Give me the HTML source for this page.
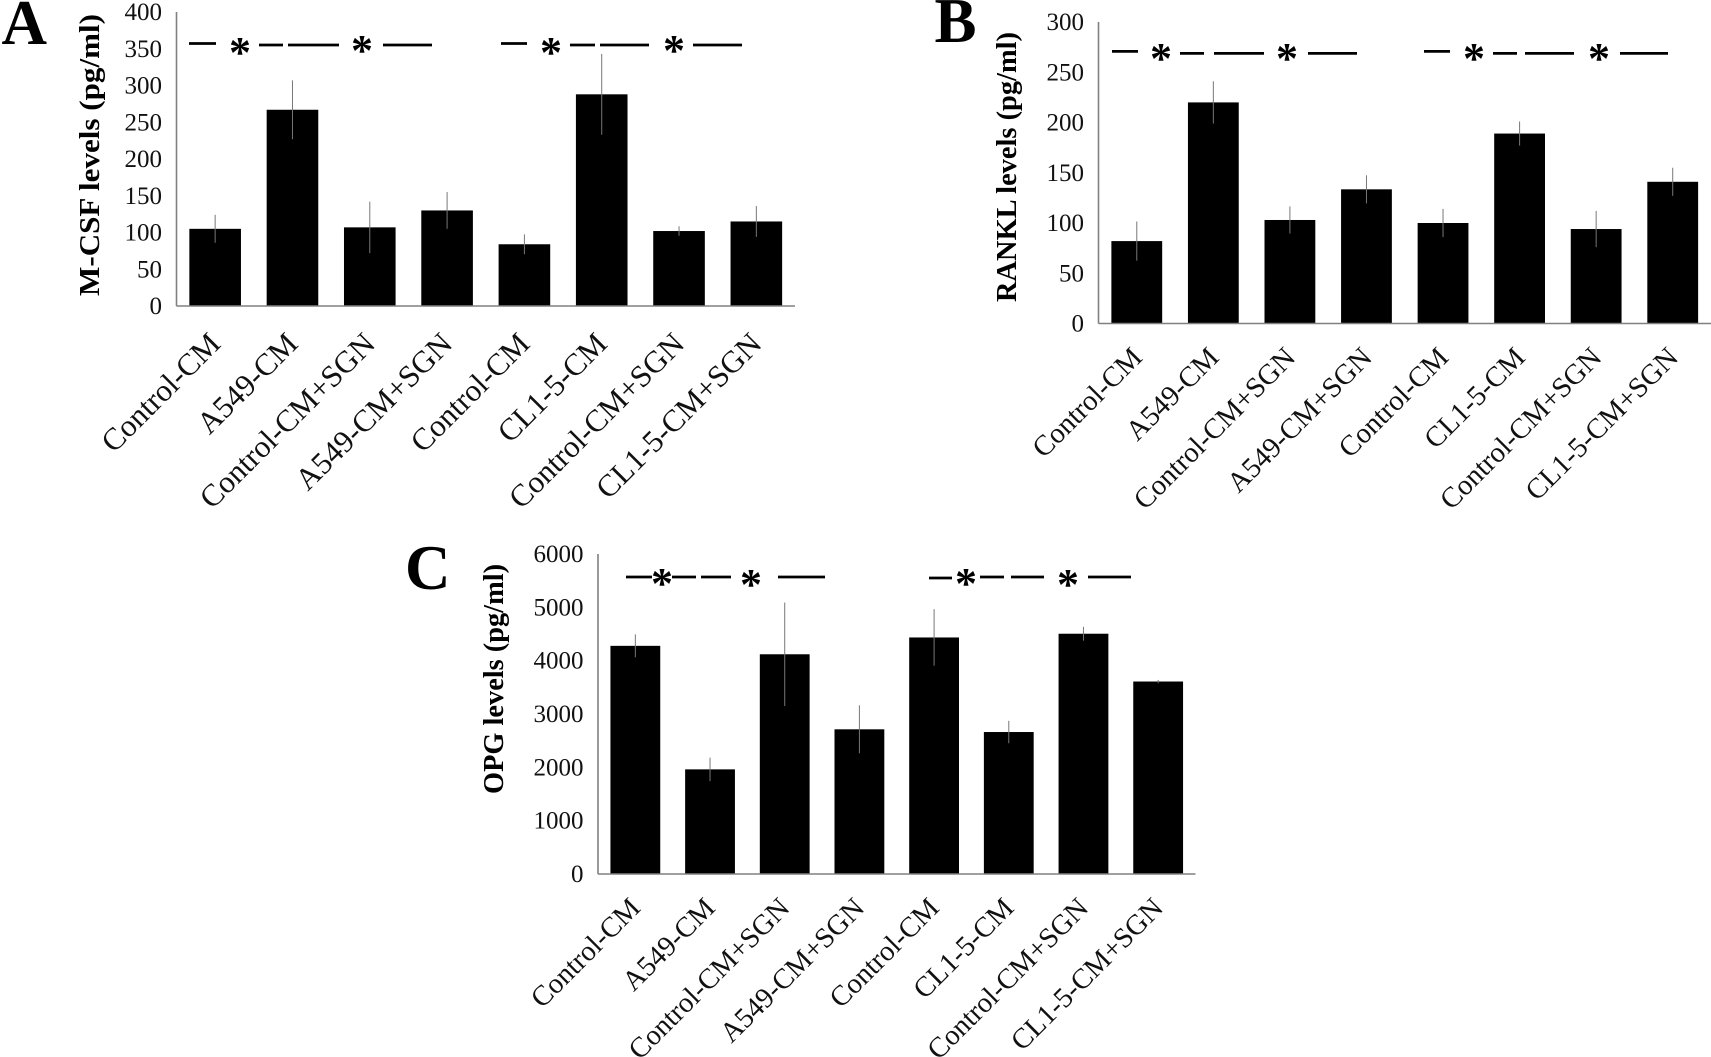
<!DOCTYPE html>
<html lang="en">
<head>
<meta charset="utf-8">
<title>M-CSF, RANKL and OPG levels</title>
<style>
html,body{margin:0;padding:0;background:#fff;}
svg{display:block;}
text{font-family:"Liberation Serif",serif;fill:#000;}
.panel-letter{font-size:63px;font-weight:bold;}
.y-title{font-size:28px;font-weight:bold;}
.tick{font-size:25px;fill:#111;}
.cat{fill:#111;}
.star{font-size:44px;font-weight:bold;text-anchor:middle;}
.dash{stroke:#000;stroke-width:2.8;}
</style>
</head>
<body>
<svg id="figure" width="1711" height="1057" viewBox="0 0 1711 1057" xmlns="http://www.w3.org/2000/svg">
  <rect width="1711" height="1057" fill="#fff"/>

  <g id="panel-a">
    <text class="panel-letter" x="1.5" y="44">A</text>
    <text class="y-title" transform="translate(99,155) rotate(-90)" text-anchor="middle" textLength="282" lengthAdjust="spacingAndGlyphs">M-CSF levels (pg/ml)</text>
    <g>
      <line class="dash" x1="189" x2="216" y1="43.5" y2="43.5"/>
      <line class="dash" x1="259" x2="283" y1="45" y2="45"/>
      <line class="dash" x1="288" x2="339" y1="45" y2="45"/>
      <line class="dash" x1="383" x2="432" y1="45" y2="45"/>
      <line class="dash" x1="501" x2="527" y1="43.5" y2="43.5"/>
      <line class="dash" x1="570" x2="595" y1="45" y2="45"/>
      <line class="dash" x1="600" x2="649" y1="45" y2="45"/>
      <line class="dash" x1="693" x2="742" y1="45" y2="45"/>
      <text class="star" x="240" y="67">*</text>
      <text class="star" x="362" y="65">*</text>
      <text class="star" x="551" y="67">*</text>
      <text class="star" x="674" y="65">*</text>
    </g>
  </g>

  <g id="panel-b">
    <text class="panel-letter" x="934.5" y="42">B</text>
    <text class="y-title" transform="translate(1016,167) rotate(-90)" text-anchor="middle" textLength="270" lengthAdjust="spacingAndGlyphs">RANKL levels (pg/ml)</text>
    <g>
      <line class="dash" x1="1112" x2="1138" y1="51.4" y2="51.4"/>
      <line class="dash" x1="1180" x2="1204" y1="53.4" y2="53.4"/>
      <line class="dash" x1="1214" x2="1264" y1="53.4" y2="53.4"/>
      <line class="dash" x1="1308" x2="1357" y1="53.4" y2="53.4"/>
      <line class="dash" x1="1424" x2="1450" y1="51.4" y2="51.4"/>
      <line class="dash" x1="1493" x2="1517" y1="53.4" y2="53.4"/>
      <line class="dash" x1="1525" x2="1574" y1="53.4" y2="53.4"/>
      <line class="dash" x1="1620" x2="1668" y1="53.4" y2="53.4"/>
      <text class="star" x="1161" y="73">*</text>
      <text class="star" x="1287" y="73">*</text>
      <text class="star" x="1474" y="73">*</text>
      <text class="star" x="1599" y="73">*</text>
    </g>
  </g>

  <g id="panel-c">
    <text class="panel-letter" x="405" y="589">C</text>
    <text class="y-title" transform="translate(503,679) rotate(-90)" text-anchor="middle" textLength="230" lengthAdjust="spacingAndGlyphs">OPG levels (pg/ml)</text>
    <g>
      <line class="dash" x1="626" x2="652" y1="577" y2="577"/>
      <line class="dash" x1="672" x2="696" y1="577" y2="577"/>
      <line class="dash" x1="701" x2="731" y1="577" y2="577"/>
      <line class="dash" x1="778" x2="825" y1="577" y2="577"/>
      <line class="dash" x1="929" x2="952" y1="578" y2="578"/>
      <line class="dash" x1="980" x2="1004" y1="577" y2="577"/>
      <line class="dash" x1="1011" x2="1044" y1="577" y2="577"/>
      <line class="dash" x1="1088" x2="1131" y1="577" y2="577"/>
      <text class="star" x="662" y="598">*</text>
      <text class="star" x="751" y="599">*</text>
      <text class="star" x="966" y="598">*</text>
      <text class="star" x="1068" y="599">*</text>
    </g>
  </g>
</svg>

<script>
const categories = ["Control-CM","A549-CM","Control-CM+SGN","A549-CM+SGN","Control-CM","CL1-5-CM","Control-CM+SGN","CL1-5-CM+SGN"];

const mcsfValues = [105, 267, 107, 130, 84, 288, 102, 115];
const mcsfErrors = [19, 40, 35, 25, 13.5, 55, 6.5, 21];
const mcsfTicks = [0, 50, 100, 150, 200, 250, 300, 350, 400];

const ranklValues = [82, 220, 103, 133.5, 100, 189, 94, 141];
const ranklErrors = [19.5, 21, 13.5, 14, 14, 12, 18, 14];
const ranklTicks = [0, 50, 100, 150, 200, 250, 300];

const opgValues = [4278, 1962, 4120, 2713, 4435, 2662, 4505, 3609];
const opgErrors = [215, 220, 970, 450, 530, 210, 130, 30];
const opgTicks = [0, 1000, 2000, 3000, 4000, 5000, 6000];

const SVG_NS = "http://www.w3.org/2000/svg";

function drawPanel(groupId, values, errors, ticks, left, right, top, base, barWidth, catFont, catDx, catDy) {
  const group = document.getElementById(groupId);
  const maxTick = ticks[ticks.length - 1];
  const step = (right - left) / categories.length;
  const xCenter = function (i) { return left + step * (i + 0.5); };
  const yScale = function (v) { return base - (v / maxTick) * (base - top); };

  values.forEach(function (value, i) {
    const bar = document.createElementNS(SVG_NS, "rect");
    
    
    bar.setAttribute("x", xCenter(i) - barWidth / 2);
    bar.setAttribute("y", yScale(value));
    bar.setAttribute("width", barWidth);
    bar.setAttribute("height", base - yScale(value));
    bar.setAttribute("fill", "#000");
    group.appendChild(bar);

    const err = document.createElementNS(SVG_NS, "line");
    
    
    err.setAttribute("x1", xCenter(i));
    err.setAttribute("x2", xCenter(i));
    err.setAttribute("y1", yScale(value + errors[i]));
    err.setAttribute("y2", yScale(value - errors[i]));
    err.setAttribute("stroke", "#777");
    err.setAttribute("stroke-width", "1");
    group.appendChild(err);
  });

  const yAxis = document.createElementNS(SVG_NS, "line");
  
  
  yAxis.setAttribute("x1", left);
  yAxis.setAttribute("x2", left);
  yAxis.setAttribute("y1", top);
  yAxis.setAttribute("y2", base);
  yAxis.setAttribute("stroke", "#808080");
  yAxis.setAttribute("stroke-width", "1.6");
  group.appendChild(yAxis);

  const xAxis = document.createElementNS(SVG_NS, "line");
  
  
  xAxis.setAttribute("x1", left);
  xAxis.setAttribute("x2", right);
  xAxis.setAttribute("y1", base);
  xAxis.setAttribute("y2", base);
  xAxis.setAttribute("stroke", "#808080");
  xAxis.setAttribute("stroke-width", "1.6");
  group.appendChild(xAxis);

  ticks.forEach(function (tick) {
    const label = document.createElementNS(SVG_NS, "text");
    
    
    label.setAttribute("class", "tick");
    label.setAttribute("text-anchor", "end");
    label.setAttribute("x", left - 14.5);
    label.setAttribute("y", yScale(tick) + 8);
    label.textContent = tick;
    group.appendChild(label);
  });

  categories.forEach(function (name, i) {
    const label = document.createElementNS(SVG_NS, "text");
    
    
    label.setAttribute("class", "cat");
    label.setAttribute("font-size", catFont);
    label.setAttribute("text-anchor", "end");
    label.setAttribute("transform", "translate(" + (xCenter(i) + catDx) + "," + (base + catDy) + ") rotate(-45)");
    label.textContent = name;
    group.appendChild(label);
  });
}

drawPanel("panel-a", mcsfValues, mcsfErrors, mcsfTicks, 176.5, 795, 12, 306, 51.6, 31, 7, 39.5);
drawPanel("panel-b", ranklValues, ranklErrors, ranklTicks, 1098.5, 1711, 22, 323.5, 50.8, 28.6, 7, 35.5);
drawPanel("panel-c", opgValues, opgErrors, opgTicks, 598, 1195.5, 554, 874, 49.8, 28.5, 6.5, 35.5);
</script>
</body>
</html>
